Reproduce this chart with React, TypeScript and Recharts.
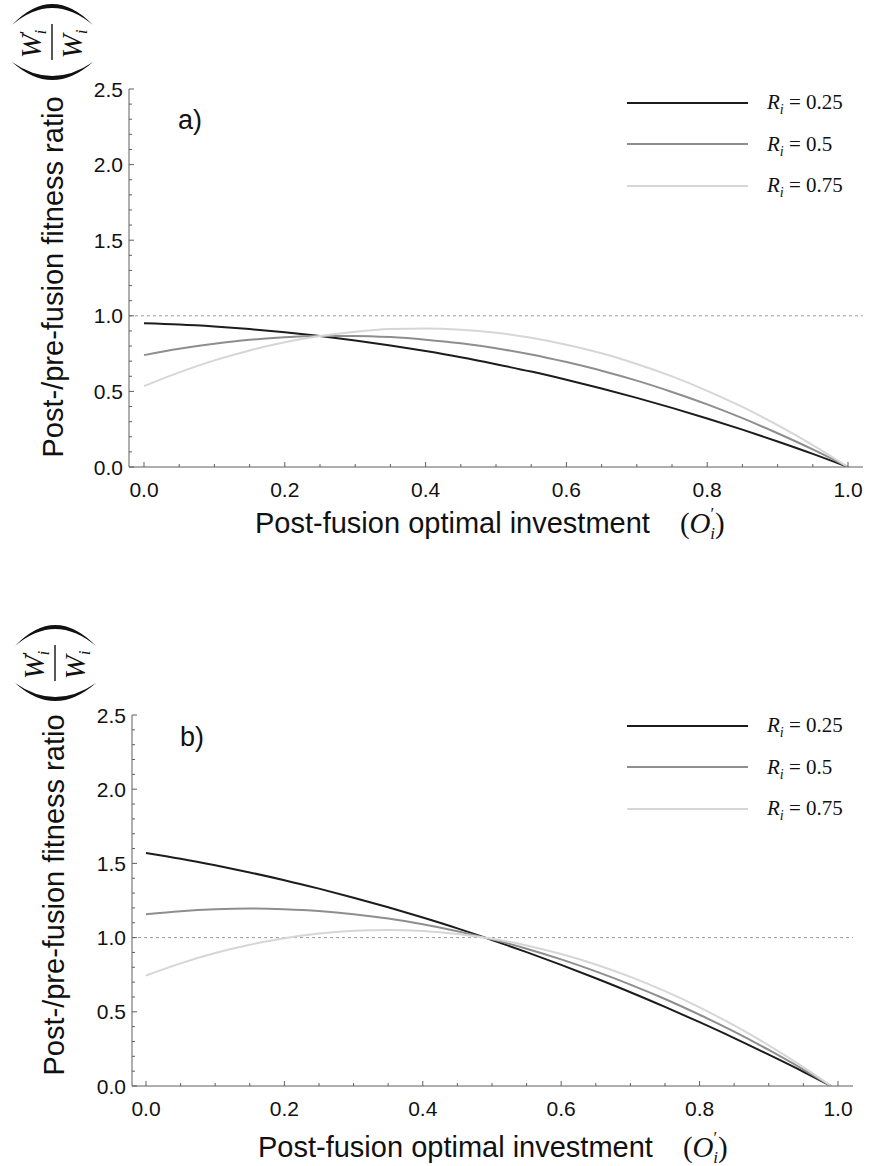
import { LineChart, Line, XAxis, YAxis, ReferenceLine, Legend, Customized } from 'recharts';

const SANS = '"Liberation Sans", Arial, Helvetica, sans-serif';
const SERIF = '"Liberation Serif", "Times New Roman", serif';
const AXIS = '#5f5f5f';

// panel a
const xA = [0, 0.05, 0.1, 0.15, 0.2, 0.25, 0.3, 0.35, 0.4, 0.45, 0.5, 0.55, 0.6, 0.65, 0.7, 0.75, 0.8, 0.85, 0.9, 0.95, 1];
const r025A = [0.95, 0.942, 0.929, 0.912, 0.891, 0.866, 0.837, 0.804, 0.767, 0.726, 0.68, 0.631, 0.577, 0.519, 0.457, 0.391, 0.321, 0.247, 0.169, 0.087, 0];
const r05A = [0.74, 0.782, 0.815, 0.841, 0.858, 0.866, 0.867, 0.859, 0.842, 0.818, 0.785, 0.744, 0.694, 0.637, 0.571, 0.496, 0.414, 0.323, 0.223, 0.116, 0];
const r075A = [0.535, 0.626, 0.705, 0.771, 0.825, 0.866, 0.895, 0.912, 0.916, 0.908, 0.888, 0.855, 0.809, 0.752, 0.681, 0.599, 0.504, 0.397, 0.277, 0.145, 0];

// panel b
const xB = [0, 0.05, 0.1, 0.15, 0.2, 0.25, 0.3, 0.35, 0.4, 0.45, 0.5, 0.55, 0.6, 0.65, 0.7, 0.75, 0.8, 0.85, 0.9, 0.95, 0.99];
const r025B = [1.57, 1.531, 1.487, 1.439, 1.387, 1.33, 1.269, 1.204, 1.135, 1.062, 0.984, 0.902, 0.816, 0.726, 0.632, 0.533, 0.43, 0.323, 0.211, 0.096, 0];
const r05B = [1.157, 1.178, 1.191, 1.196, 1.191, 1.179, 1.158, 1.128, 1.09, 1.043, 0.988, 0.925, 0.853, 0.772, 0.683, 0.586, 0.48, 0.366, 0.243, 0.111, 0];
const r075B = [0.744, 0.826, 0.896, 0.952, 0.996, 1.028, 1.046, 1.052, 1.045, 1.025, 0.993, 0.947, 0.889, 0.819, 0.735, 0.639, 0.53, 0.408, 0.274, 0.127, 0];

const xTicks = [0, 0.05, 0.1, 0.15, 0.2, 0.25, 0.3, 0.35, 0.4, 0.45, 0.5, 0.55, 0.6, 0.65, 0.7, 0.75, 0.8, 0.85, 0.9, 0.95, 1];
const yTicks = [0, 0.1, 0.2, 0.3, 0.4, 0.5, 0.6, 0.7, 0.8, 0.9, 1, 1.1, 1.2, 1.3, 1.4, 1.5, 1.6, 1.7, 1.8, 1.9, 2, 2.1, 2.2, 2.3, 2.4, 2.5];
const seriesNames = ['0.25', '0.5', '0.75'];
const seriesColors = ['#1c1c1c', '#8e8e8e', '#d6d6d6'];

const rowsA = xA.map((x, i) => ({ x, r025: r025A[i], r05: r05A[i], r075: r075A[i] }));
const rowsB = xB.map((x, i) => ({ x, r025: r025B[i], r05: r05B[i], r075: r075B[i] }));

const XTick = ({ x, y, payload }: any) => {
  const v = payload.value;
  const major = Math.abs(v * 5 - Math.round(v * 5)) < 1e-6;
  return (
    <g>
      <line x1={x} x2={x} y1={y} y2={y - (major ? 5 : 3)} stroke={AXIS} strokeWidth={1} />
      {major && (
        <text x={x} y={y + 30} textAnchor="middle" fontFamily={SANS} fontSize={21} fill="#111">
          {v.toFixed(1)}
        </text>
      )}
    </g>
  );
};

const YTick = ({ x, y, payload }: any) => {
  const v = payload.value;
  const major = Math.abs(v * 2 - Math.round(v * 2)) < 1e-6;
  return (
    <g>
      <line x1={x} x2={x + (major ? 5 : 3)} y1={y} y2={y} stroke={AXIS} strokeWidth={1} />
      {major && (
        <text x={x - 6} y={y + 7.5} textAnchor="end" fontFamily={SANS} fontSize={21} fill="#111">
          {v.toFixed(1)}
        </text>
      )}
    </g>
  );
};

const LegendBox = ({ payload }: any) => (
  <div style={{ fontFamily: SERIF, fontSize: 21, color: '#111' }}>
    {(payload || []).map((p: any) => (
      <div key={p.value} style={{ display: 'flex', alignItems: 'center', height: 41.5 }}>
        <svg width={121} height={4} style={{ display: 'block' }}>
          <line x1={0} x2={121} y1={2} y2={2} stroke={p.color} strokeWidth={2} />
        </svg>
        <span style={{ marginLeft: 19, lineHeight: 1, whiteSpace: 'nowrap' }}>
          <i>R</i>
          <span style={{ fontSize: 14, fontStyle: 'italic', position: 'relative', top: 5 }}>i</span>
          {' = '}
          {p.value}
        </span>
      </div>
    ))}
  </div>
);

// the (W'_i / W_i) fraction of the y title, turned on its side
const Fraction = ({ cx, cy }: { cx: number; cy: number }) => (
  <g>
    <path
      d={`M ${cx - 40} ${cy - 17} Q ${cx} ${cy - 59} ${cx + 41} ${cy - 17} Q ${cx} ${cy - 51} ${cx - 40} ${cy - 17} Z`}
      fill="#111"
    />
    <path
      d={`M ${cx - 40} ${cy + 20} Q ${cx} ${cy + 56} ${cx + 41} ${cy + 20} Q ${cx} ${cy + 48} ${cx - 40} ${cy + 20} Z`}
      fill="#111"
    />
    <g transform={`translate(${cx},${cy}) rotate(-90)`}>
      <line x1={-18} x2={18} y1={0} y2={0} stroke="#111" strokeWidth={1.4} />
      <text x={-2} y={-11} textAnchor="middle" fontFamily={SERIF} fontSize={29} fill="#111">
        <tspan fontStyle="italic">W</tspan>
        <tspan fontSize={17} dy={-10}>′</tspan>
        <tspan fontSize={17} fontStyle="italic" dx={-4} dy={15}>i</tspan>
      </text>
      <text x={-2} y={30} textAnchor="middle" fontFamily={SERIF} fontSize={29} fill="#111">
        <tspan fontStyle="italic">W</tspan>
        <tspan fontSize={17} fontStyle="italic" dy={5}>i</tspan>
      </text>
    </g>
  </g>
);

const Overlay = ({ tag, tagX, tagY, fracX, fracY, titleX, titleY, xTitleX, xTitleY }: any) => (
  <g>
    <text x={tagX} y={tagY} fontFamily={SANS} fontSize={27} fill="#111">
      {tag}
    </text>
    <Fraction cx={fracX} cy={fracY} />
    <text
      x={titleX}
      y={titleY}
      transform={`rotate(-90, ${titleX}, ${titleY})`}
      textAnchor="middle"
      fontFamily={SANS}
      fontSize={29}
      fill="#111"
    >
      Post-/pre-fusion fitness ratio
    </text>
    <text x={xTitleX} y={xTitleY} fontFamily={SANS} fontSize={29} fill="#111">
      Post-fusion optimal investment
      <tspan dx={30} fontFamily={SERIF}>(</tspan>
      <tspan fontFamily={SERIF} fontStyle="italic">O</tspan>
      <tspan fontFamily={SERIF} fontSize={17} dy={-14}>′</tspan>
      <tspan fontFamily={SERIF} fontStyle="italic" fontSize={17} dx={-4} dy={20}>i</tspan>
      <tspan fontFamily={SERIF} dy={-6}>)</tspan>
    </text>
  </g>
);

const Panel = ({ rows, margin, yWidth, xHeight, xDomain, legendTop, overlay }: any) => (
  <LineChart width={870} height={583} data={rows} margin={margin}>
    <XAxis
      dataKey="x"
      type="number"
      domain={xDomain}
      allowDataOverflow
      ticks={xTicks}
      interval={0}
      height={xHeight}
      tickSize={0}
      tickMargin={0}
      tickLine={false}
      axisLine={{ stroke: AXIS, strokeWidth: 1 }}
      tick={<XTick />}
    />
    <YAxis
      type="number"
      domain={[0, 2.5]}
      allowDataOverflow
      ticks={yTicks}
      interval={0}
      width={yWidth}
      tickSize={0}
      tickMargin={0}
      tickLine={false}
      axisLine={{ stroke: AXIS, strokeWidth: 1 }}
      tick={<YTick />}
    />
    <ReferenceLine y={1} stroke="#9c9c9c" strokeDasharray="3 3" strokeWidth={1} />
    <Line dataKey="r025" name={seriesNames[0]} stroke={seriesColors[0]} strokeWidth={2} type="monotone" dot={false} activeDot={false} isAnimationActive={false} />
    <Line dataKey="r05" name={seriesNames[1]} stroke={seriesColors[1]} strokeWidth={2} type="monotone" dot={false} activeDot={false} isAnimationActive={false} />
    <Line dataKey="r075" name={seriesNames[2]} stroke={seriesColors[2]} strokeWidth={2} type="monotone" dot={false} activeDot={false} isAnimationActive={false} />
    <Legend
      layout="vertical"
      align="center"
      verticalAlign="middle"
      content={<LegendBox />}
      wrapperStyle={{ top: legendTop, left: 627, width: 240 }}
    />
    <Customized component={<Overlay {...overlay} />} />
  </LineChart>
);

export default function App() {
  return (
    <div style={{ position: 'absolute', left: 0, top: 0, width: 870, height: 1166, background: '#fff' }}>
      <div style={{ position: 'absolute', left: 0, top: 0 }}>
        <Panel
          rows={rowsA}
          margin={{ top: 89, right: 7, left: 0, bottom: 0 }}
          yWidth={129}
          xHeight={116}
          xDomain={[-0.0213, 1.0213]}
          legendTop={82}
          overlay={{ tag: 'a)', tagX: 178, tagY: 129, fracX: 52, fracY: 42, titleX: 63, titleY: 277, xTitleX: 255, xTitleY: 533 }}
        />
      </div>
      <div style={{ position: 'absolute', left: 0, top: 583 }}>
        <Panel
          rows={rowsB}
          margin={{ top: 132, right: 17, left: 0, bottom: 0 }}
          yWidth={132}
          xHeight={80}
          xDomain={[-0.0202, 1.0217]}
          legendTop={122}
          overlay={{ tag: 'b)', tagX: 180, tagY: 163, fracX: 55, fracY: 80, titleX: 64, titleY: 312, xTitleX: 258, xTitleY: 574 }}
        />
      </div>
    </div>
  );
}
